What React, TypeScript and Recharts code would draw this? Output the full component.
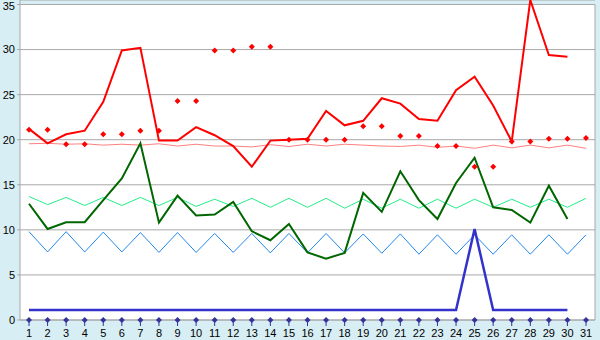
import { LineChart, Line, XAxis, YAxis, CartesianGrid } from "recharts";

const days = [
  "1", "2", "3", "4", "5", "6", "7", "8", "9", "10", "11", "12", "13", "14", "15", "16",
  "17", "18", "19", "20", "21", "22", "23", "24", "25", "26", "27", "28", "29", "30", "31",
];

const redMain = [
  21.2, 19.6, 20.6, 21.0, 24.2, 29.9, 30.2, 19.9, 19.9, 21.4, 20.5, 19.3, 17.0, 19.9, 20.0, 20.1,
  23.2, 21.6, 22.1, 24.6, 24.0, 22.3, 22.1, 25.5, 27.0, 23.8, 19.8, 35.5, 29.4, 29.2, null,
];

const redDots = [
  21.1, 21.1, 19.5, 19.5, 20.6, 20.6, 21.0, 21.0, 24.3, 24.3, 29.9, 29.9, 30.3, 30.3, 20.0, 20.0,
  20.0, 20.0, 21.5, 21.5, 20.4, 20.4, 19.3, 19.3, 17.0, 17.0, 19.8, 19.8, 20.1, 20.1, 20.2,
];

const pinkThin = [
  19.55, 19.6, 19.5, 19.55, 19.4, 19.5, 19.4, 19.55, 19.3, 19.5, 19.3, 19.3, 19.2, 19.45, 19.25, 19.5,
  19.3, 19.5, 19.4, 19.3, 19.25, 19.4, 19.15, 19.3, 19.05, 19.4, 19.1, 19.4, 19.1, 19.4, 19.05,
];

const greenThin = [
  13.7, 12.8, 13.6, 12.7, 13.6, 12.7, 13.6, 12.7, 13.6, 12.6, 13.4, 12.6, 13.5, 12.5, 13.5, 12.5,
  13.5, 12.4, 13.4, 12.4, 13.4, 12.4, 13.4, 12.4, 13.4, 12.5, 13.4, 12.5, 13.4, 12.5, 13.5,
];

const blueThin = [
  9.8, 7.55, 9.8, 7.55, 9.75, 7.55, 9.7, 7.5, 9.7, 7.5, 9.6, 7.5, 9.6, 7.45, 9.6, 7.45,
  9.6, 7.45, 9.55, 7.4, 9.55, 7.3, 9.45, 7.3, 9.45, 7.3, 9.45, 7.3, 9.45, 7.3, 9.45,
];

const darkGreen = [
  12.9, 10.1, 10.85, 10.85, 13.3, 15.7, 19.6, 10.8, 13.8, 11.6, 11.7, 13.1, 9.85, 8.85, 10.65, 7.5,
  6.8, 7.45, 14.1, 12.0, 16.5, 13.3, 11.2, 15.2, 18.0, 12.5, 12.2, 10.8, 14.9, 11.2, null,
];

const blueThick = [
  1.1, 1.1, 1.1, 1.1, 1.1, 1.1, 1.1, 1.1, 1.1, 1.1, 1.1, 1.1, 1.1, 1.1, 1.1, 1.1,
  1.1, 1.1, 1.1, 1.1, 1.1, 1.1, 1.1, 1.1, 10.1, 1.1, 1.1, 1.1, 1.1, 1.1, null,
];

const baseMarks = [
  0, 0, 0, 0, 0, 0, 0, 0, 0, 0, 0, 0, 0, 0, 0, 0,
  0, 0, 0, 0, 0, 0, 0, 0, 0, 0, 0, 0, 0, 0, 0,
];

const yTicks = [0, 5, 10, 15, 20, 25, 30, 35];

const data = days.map((d, i) => ({
  day: d,
  redMain: redMain[i],
  redDots: redDots[i],
  pinkThin: pinkThin[i],
  greenThin: greenThin[i],
  blueThin: blueThin[i],
  darkGreen: darkGreen[i],
  blueThick: blueThick[i],
  base: baseMarks[i],
}));

const diamond = (color: string, r: number) => (props: any) => {
  const { cx, cy, index } = props;
  if (cx == null || cy == null) return <g key={index} />;
  return (
    <path
      key={index}
      d={`M${cx},${cy - r}L${cx + r},${cy}L${cx},${cy + r}L${cx - r},${cy}Z`}
      fill={color}
    />
  );
};

const tickStyle = { fontSize: 11, fill: "#000", fontFamily: "Liberation Sans, Arial, sans-serif" };

export default function App() {
  return (
    <div
      style={{
        position: "absolute",
        left: 0,
        top: 0,
        width: 600,
        height: 340,
        background: "#d8eef5",
        fontFamily: "Liberation Sans, Arial, sans-serif",
      }}
    >
      <LineChart width={600} height={340} data={data} margin={{ top: 0, right: 5, bottom: 0, left: 0 }}>
        {/* plot box stops at the 35 line; the 28th peak pokes above it */}
        <CartesianGrid
          y={4.5}
          height={315.5}
          vertical={true}
          verticalPoints={[595]}
          stroke="#a8a8a8"
          fill="#ffffff"
        />
        <XAxis
          dataKey="day"
          height={20}
          interval={0}
          padding={{ left: 9, right: 9 }}
          tick={tickStyle}
          tickSize={6}
          tickMargin={3}
          tickLine={{ stroke: "#333399" }}
          axisLine={{ stroke: "#a8a8a8" }}
        />
        <YAxis
          width={20}
          domain={[0, 35.5]}
          ticks={yTicks}
          tick={tickStyle}
          tickSize={3}
          tickMargin={2}
          tickLine={{ stroke: "#a8a8a8" }}
          axisLine={{ stroke: "#a8a8a8" }}
        />
        <Line dataKey="pinkThin" stroke="#ff8080" strokeWidth={1} dot={false} isAnimationActive={false} />
        <Line dataKey="greenThin" stroke="#22ee88" strokeWidth={1} dot={false} isAnimationActive={false} />
        <Line dataKey="blueThin" stroke="#2288ee" strokeWidth={1} dot={false} isAnimationActive={false} />
        <Line dataKey="blueThick" stroke="#3333cc" strokeWidth={2.5} dot={false} isAnimationActive={false} />
        <Line dataKey="darkGreen" stroke="#006600" strokeWidth={2} dot={false} isAnimationActive={false} />
        <Line dataKey="redMain" stroke="#ff0000" strokeWidth={2} dot={false} isAnimationActive={false} />
        <Line
          dataKey="redDots"
          stroke="none"
          dot={diamond("#ff0000", 3)}
          activeDot={false}
          isAnimationActive={false}
        />
        <Line
          dataKey="base"
          stroke="none"
          dot={diamond("#333399", 3)}
          activeDot={false}
          isAnimationActive={false}
        />
      </LineChart>
    </div>
  );
}
